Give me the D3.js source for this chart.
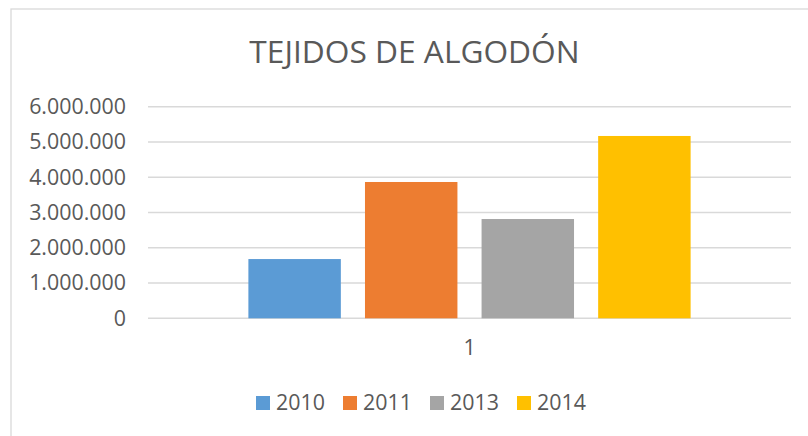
<!DOCTYPE html>
<html>
<head>
<meta charset="utf-8">
<script src="https://cdn.jsdelivr.net/npm/d3@7"></script>
<style>
  body { margin: 0; background: #ffffff; }
  text { font-family: "Open Sans", sans-serif; fill: #595959; }
</style>
</head>
<body>
<script>
const width = 808;
const height = 436;

const categories = ["1"];
const years = ["2010", "2011", "2013", "2014"];
const values = [1680000, 3865000, 2815000, 5170000];
const colors = ["#5b9bd5", "#ed7d31", "#a5a5a5", "#ffc000"];
const yTicks = [0, 1000000, 2000000, 3000000, 4000000, 5000000, 6000000];

const plotLeft = 148, plotRight = 791, plotTop = 106.7, plotBottom = 318.3;

const locale = d3.formatLocale({ decimal: ",", thousands: ".", grouping: [3], currency: ["", ""] });
const fmt = locale.format(",.0f");

const svg = d3.select("body")
    .append("svg")
    .attr("width", width)
    .attr("height", height);

// chart frame
svg.append("rect")
    .attr("x", 11)
    .attr("y", 9)
    .attr("width", width)
    .attr("height", height)
    .attr("fill", "#ffffff")
    .attr("stroke", "#d9d9d9")
    .attr("stroke-width", 1.3);

svg.append("text")
    .attr("x", 414.5)
    .attr("y", 63)
    .attr("text-anchor", "middle")
    .attr("font-size", 31.7)
    .text("TEJIDOS DE ALGODÓN");

const x0 = d3.scaleBand()
    .domain(categories)
    .range([plotLeft, plotRight])
    .paddingOuter(0.227);

const x1 = d3.scaleBand()
    .domain(years)
    .range([0, x0.bandwidth()])
    .paddingInner(0.207);

const y = d3.scaleLinear()
    .domain([0, 6000000])
    .range([plotBottom, plotTop]);

// gridlines
svg.append("g")
    .selectAll("line")
    .data(yTicks)
    .enter()
    .append("line")
    .attr("x1", plotLeft)
    .attr("x2", plotRight)
    .attr("y1", d => y(d))
    .attr("y2", d => y(d))
    .attr("stroke", "#d9d9d9")
    .attr("stroke-width", 1.4);

const yAxis = svg.append("g")
    .attr("transform", `translate(${plotLeft},0)`)
    .call(d3.axisLeft(y).tickValues(yTicks).tickFormat(fmt).tickSize(0).tickPadding(22));
yAxis.select(".domain").remove();
yAxis.selectAll("text")
    .attr("font-size", 21.4)
    .attr("font-family", "Open Sans, sans-serif")
    .attr("fill", "#595959");

svg.append("g")
    .selectAll("rect")
    .data(years.map((yr, i) => ({ yr: yr, v: values[i], c: colors[i] })))
    .enter()
    .append("rect")
    .attr("x", d => x0("1") + x1(d.yr))
    .attr("y", d => y(d.v))
    .attr("width", x1.bandwidth())
    .attr("height", d => y(0) - y(d.v))
    .attr("fill", d => d.c);

const xAxis = svg.append("g")
    .attr("transform", `translate(0,${plotBottom})`)
    .call(d3.axisBottom(x0).tickSize(0).tickPadding(22));
xAxis.select(".domain").remove();
xAxis.selectAll("text")
    .attr("font-size", 21.4)
    .attr("font-family", "Open Sans, sans-serif")
    .attr("fill", "#595959");

// legend
const legend = svg.append("g")
    .selectAll("g")
    .data(years)
    .enter()
    .append("g")
    .attr("transform", (d, i) => `translate(${256 + i * 87},396)`);

legend.append("rect")
    .attr("width", 14)
    .attr("height", 14)
    .attr("fill", (d, i) => colors[i]);

legend.append("text")
    .attr("x", 20)
    .attr("y", 14)
    .attr("font-size", 21.4)
    .text(d => d);
</script>
</body>
</html>
